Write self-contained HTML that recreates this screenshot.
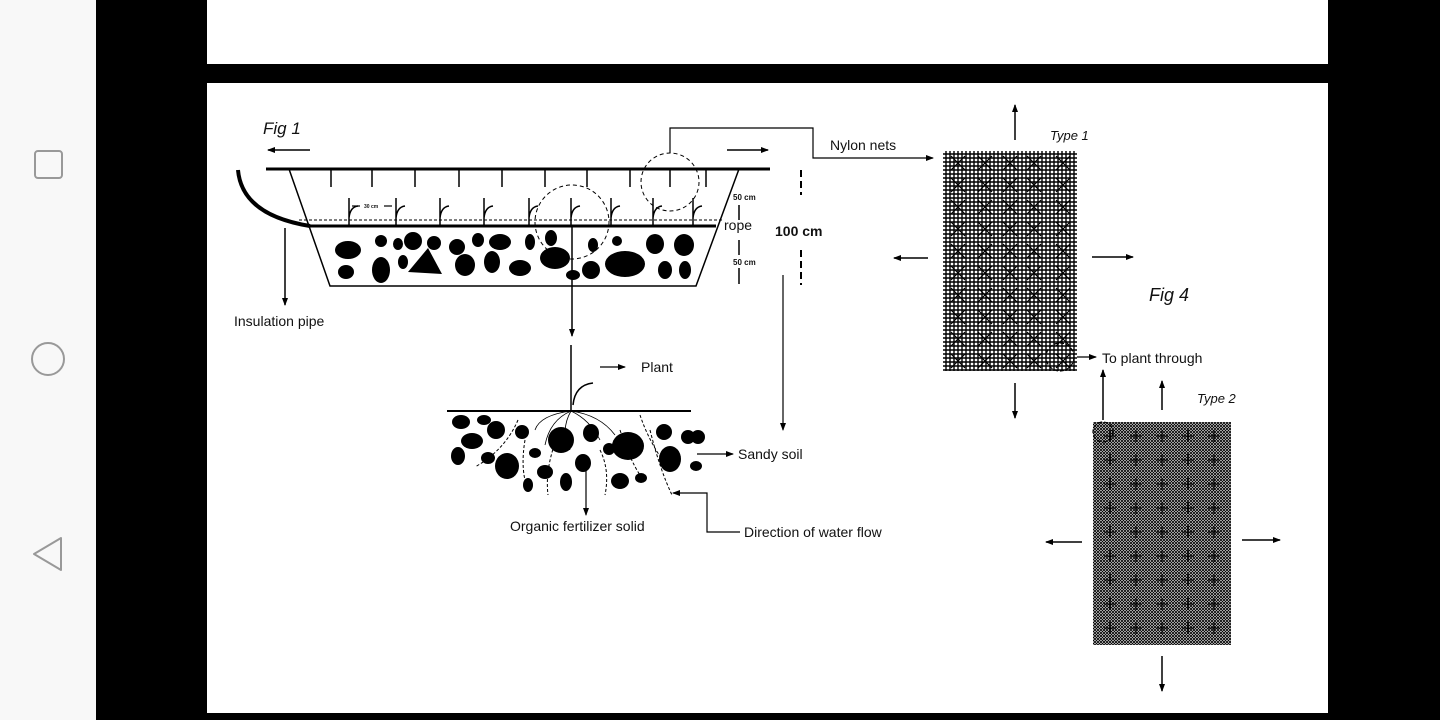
<!DOCTYPE html>
<html><head><meta charset="utf-8"><style>
html,body{margin:0;padding:0;width:1440px;height:720px;overflow:hidden;background:#000}
svg{display:block}
text{font-family:"Liberation Sans",sans-serif;fill:#111}
</style></head><body>
<svg width="1440" height="720" viewBox="0 0 1440 720" xmlns="http://www.w3.org/2000/svg">
<defs>
<marker id="a" markerWidth="8" markerHeight="8" refX="7" refY="4" orient="auto" markerUnits="userSpaceOnUse"><path d="M0,1 L8,4 L0,7 Z" fill="#000"/></marker>
<pattern id="g1" width="4" height="4" patternUnits="userSpaceOnUse"><path d="M2,0V4M0,2H4" stroke="#000" stroke-width="1.4"/></pattern>
<pattern id="g2" width="3" height="3" patternUnits="userSpaceOnUse"><path d="M0,0L3,3M3,0L0,3" stroke="#000" stroke-width="0.9"/></pattern>
</defs>
<rect x="0" y="0" width="96" height="720" fill="#f8f8f8"/>
<rect x="35" y="151" width="27" height="27" rx="3" fill="none" stroke="#999" stroke-width="2"/>
<circle cx="48" cy="359" r="16" fill="none" stroke="#999" stroke-width="2"/>
<path d="M61,538 L34,554 L61,570 Z" fill="none" stroke="#999" stroke-width="2" stroke-linejoin="round"/>
<rect x="207" y="0" width="1121" height="64" fill="#fff"/>
<rect x="207" y="83" width="1121" height="630" fill="#fff"/>

<g stroke="#000" fill="none">
<line x1="266" y1="169" x2="770" y2="169" stroke-width="3"/>
<path d="M289,169 L330,286 L696,286 L739,169" stroke-width="1.5"/>
<line x1="310" y1="226" x2="716" y2="226" stroke-width="3"/>
<line x1="299" y1="220" x2="724" y2="220" stroke-width="1" stroke-dasharray="3,2"/>
<g stroke-width="1.5">
<path d="M331,169V187M372,169V187M415,169V187M459,169V187M502,169V187M545,169V187M587,169V187M630,169V187M670,169V187M706,169V187"/>
<path d="M349,198V226M349,218Q350,207 358,206M396,198V226M396,218Q397,207 405,206M440,198V226M440,218Q441,207 449,206M484,198V226M484,218Q485,207 493,206M529,198V226M529,218Q530,207 538,206M571,198V226M571,218Q572,207 580,206M611,198V226M611,218Q612,207 620,206M653,198V226M653,218Q654,207 662,206M693,198V226M693,218Q694,207 702,206"/>
<path d="M739,205V220M739,240V255M739,268V284"/>
</g>
<line x1="352" y1="206" x2="360" y2="206" stroke-width="1.2"/><line x1="384" y1="206" x2="392" y2="206" stroke-width="1.2"/>
<path d="M238,170 Q242,215 310,226" stroke-width="4"/>
<line x1="285" y1="228" x2="285" y2="305" stroke-width="1.5" marker-end="url(#a)"/>
<line x1="310" y1="150" x2="268" y2="150" stroke-width="1.5" marker-end="url(#a)"/>
<line x1="727" y1="150" x2="768" y2="150" stroke-width="1.5" marker-end="url(#a)"/>
<path d="M801,170V195M801,250V285" stroke-width="2" stroke-dasharray="7,4"/>
<circle cx="670" cy="182" r="29" stroke-width="1" stroke-dasharray="4,3"/>
<circle cx="572" cy="222" r="37" stroke-width="1" stroke-dasharray="4,3"/>
<path d="M670,153V128H813V158H933" stroke-width="1.2" marker-end="url(#a)"/>
<line x1="572" y1="226" x2="572" y2="336" stroke-width="1.5" marker-end="url(#a)"/>
<line x1="783" y1="275" x2="783" y2="430" stroke-width="1.2" marker-end="url(#a)"/>
<line x1="447" y1="411" x2="691" y2="411" stroke-width="2"/>
<line x1="571" y1="345" x2="571" y2="411" stroke-width="1.5"/>
<path d="M573,405 Q575,385 593,383" stroke-width="1.5"/>
<line x1="600" y1="367" x2="625" y2="367" stroke-width="1.2" marker-end="url(#a)"/>
<path d="M571,411 Q550,420 545,445 M571,411 Q560,430 570,450 M571,411 Q590,420 600,440 M571,411 Q600,415 615,435 M571,411 Q540,415 535,430" stroke-width="0.8"/>
<path d="M518,420 Q505,450 475,467 M525,440 Q520,470 528,490 M556,440 Q545,470 548,495 M640,415 Q650,445 670,470 M620,430 Q630,460 640,475 M650,430 Q660,470 672,495 M600,450 Q610,470 605,495" stroke-width="1" stroke-dasharray="3,2"/>
<line x1="586" y1="470" x2="586" y2="515" stroke-width="1.2" marker-end="url(#a)"/>
<line x1="697" y1="454" x2="733" y2="454" stroke-width="1.2" marker-end="url(#a)"/>
<path d="M740,532H707V493H673" stroke-width="1.2" marker-end="url(#a)"/>
<line x1="1015" y1="140" x2="1015" y2="105" stroke-width="1.5" marker-end="url(#a)"/>
<line x1="1015" y1="383" x2="1015" y2="418" stroke-width="1.5" marker-end="url(#a)"/>
<line x1="928" y1="258" x2="894" y2="258" stroke-width="1.5" marker-end="url(#a)"/>
<line x1="1092" y1="257" x2="1133" y2="257" stroke-width="1.5" marker-end="url(#a)"/>
<line x1="1077" y1="357" x2="1096" y2="357" stroke-width="1.2" marker-end="url(#a)"/>
<line x1="1103" y1="420" x2="1103" y2="370" stroke-width="1.5" marker-end="url(#a)"/>
<line x1="1162" y1="410" x2="1162" y2="381" stroke-width="1.5" marker-end="url(#a)"/>
<line x1="1082" y1="542" x2="1046" y2="542" stroke-width="1.5" marker-end="url(#a)"/>
<line x1="1242" y1="540" x2="1280" y2="540" stroke-width="1.5" marker-end="url(#a)"/>
<line x1="1162" y1="656" x2="1162" y2="691" stroke-width="1.5" marker-end="url(#a)"/>
</g>
<g fill="#000">
<ellipse cx="348" cy="250" rx="13" ry="9"/><ellipse cx="381" cy="241" rx="6" ry="6"/><ellipse cx="346" cy="272" rx="8" ry="7"/>
<ellipse cx="381" cy="270" rx="9" ry="13"/><ellipse cx="413" cy="241" rx="9" ry="9"/><ellipse cx="434" cy="243" rx="7" ry="7"/>
<path d="M408,272 L428,248 L442,274 Z"/><ellipse cx="403" cy="262" rx="5" ry="7"/><ellipse cx="457" cy="247" rx="8" ry="8"/>
<ellipse cx="465" cy="265" rx="10" ry="11"/><ellipse cx="478" cy="240" rx="6" ry="7"/><ellipse cx="500" cy="242" rx="11" ry="8"/>
<ellipse cx="492" cy="262" rx="8" ry="11"/><ellipse cx="520" cy="268" rx="11" ry="8"/><ellipse cx="530" cy="242" rx="5" ry="8"/>
<ellipse cx="551" cy="238" rx="6" ry="8"/><ellipse cx="555" cy="258" rx="15" ry="11"/><ellipse cx="573" cy="275" rx="7" ry="5"/>
<ellipse cx="591" cy="270" rx="9" ry="9"/><ellipse cx="593" cy="245" rx="5" ry="7"/><ellipse cx="625" cy="264" rx="20" ry="13"/>
<ellipse cx="617" cy="241" rx="5" ry="5"/><ellipse cx="655" cy="244" rx="9" ry="10"/><ellipse cx="665" cy="270" rx="7" ry="9"/>
<ellipse cx="684" cy="245" rx="10" ry="11"/><ellipse cx="685" cy="270" rx="6" ry="9"/><ellipse cx="398" cy="244" rx="5" ry="6"/>
<ellipse cx="461" cy="422" rx="9" ry="7"/><ellipse cx="484" cy="420" rx="7" ry="5"/><ellipse cx="472" cy="441" rx="11" ry="8"/>
<ellipse cx="458" cy="456" rx="7" ry="9"/><ellipse cx="496" cy="430" rx="9" ry="9"/><ellipse cx="507" cy="466" rx="12" ry="13"/>
<ellipse cx="488" cy="458" rx="7" ry="6"/><ellipse cx="522" cy="432" rx="7" ry="7"/><ellipse cx="535" cy="453" rx="6" ry="5"/>
<ellipse cx="561" cy="440" rx="13" ry="13"/><ellipse cx="545" cy="472" rx="8" ry="7"/><ellipse cx="566" cy="482" rx="6" ry="9"/>
<ellipse cx="583" cy="463" rx="8" ry="9"/><ellipse cx="591" cy="433" rx="8" ry="9"/><ellipse cx="609" cy="449" rx="6" ry="6"/>
<ellipse cx="628" cy="446" rx="16" ry="14"/><ellipse cx="620" cy="481" rx="9" ry="8"/><ellipse cx="641" cy="478" rx="6" ry="5"/>
<ellipse cx="664" cy="432" rx="8" ry="8"/><ellipse cx="670" cy="459" rx="11" ry="13"/><ellipse cx="688" cy="437" rx="7" ry="7"/>
<ellipse cx="698" cy="437" rx="7" ry="7"/><ellipse cx="696" cy="466" rx="6" ry="5"/><ellipse cx="528" cy="485" rx="5" ry="7"/>
</g>
<rect x="943" y="151" width="134" height="220" fill="url(#g1)"/>
<g stroke="#000" stroke-width="1.2">
<path id="xs" d="M951,156l14,14m0,-14l-14,14M978,156l14,14m0,-14l-14,14M1003,156l14,14m0,-14l-14,14M1027,156l14,14m0,-14l-14,14M1056,156l14,14m0,-14l-14,14"/>
<use href="#xs" y="22"/><use href="#xs" y="44"/><use href="#xs" y="66"/><use href="#xs" y="88"/><use href="#xs" y="110"/><use href="#xs" y="132"/><use href="#xs" y="154"/><use href="#xs" y="176"/><use href="#xs" y="198"/>
</g>
<circle cx="1060" cy="357" r="14" fill="none" stroke="#000" stroke-width="1.2" stroke-dasharray="4,2"/>
<rect x="1093" y="422" width="138" height="223" fill="url(#g2)"/>
<g stroke="#000" stroke-width="1.3">
<path id="ps" d="M1104,436h12m-6,-6v12M1130,436h12m-6,-6v12M1156,436h12m-6,-6v12M1182,436h12m-6,-6v12M1208,436h12m-6,-6v12"/>
<use href="#ps" y="24"/><use href="#ps" y="48"/><use href="#ps" y="72"/><use href="#ps" y="96"/><use href="#ps" y="120"/><use href="#ps" y="144"/><use href="#ps" y="168"/><use href="#ps" y="192"/>
</g>
<circle cx="1103" cy="432" r="10" fill="none" stroke="#000" stroke-width="1.2" stroke-dasharray="4,2"/>
<text x="263" y="134" font-size="17" font-style="italic">Fig 1</text>
<text x="364" y="208" font-size="5" font-weight="bold">30 cm</text>
<text x="733" y="200" font-size="8" font-weight="bold">50 cm</text>
<text x="733" y="265" font-size="8" font-weight="bold">50 cm</text>
<text x="724" y="230" font-size="14">rope</text>
<text x="775" y="236" font-size="14" font-weight="bold">100 cm</text>
<text x="234" y="326" font-size="14">Insulation pipe</text>
<text x="830" y="150" font-size="14">Nylon nets</text>
<text x="641" y="372" font-size="14">Plant</text>
<text x="738" y="459" font-size="14">Sandy soil</text>
<text x="510" y="531" font-size="14">Organic fertilizer solid</text>
<text x="744" y="537" font-size="14">Direction of water flow</text>
<text x="1050" y="140" font-size="13" font-style="italic">Type 1</text>
<text x="1149" y="301" font-size="18" font-style="italic">Fig 4</text>
<text x="1102" y="363" font-size="14">To plant through</text>
<text x="1197" y="403" font-size="13" font-style="italic">Type 2</text>
</svg>
</body></html>
